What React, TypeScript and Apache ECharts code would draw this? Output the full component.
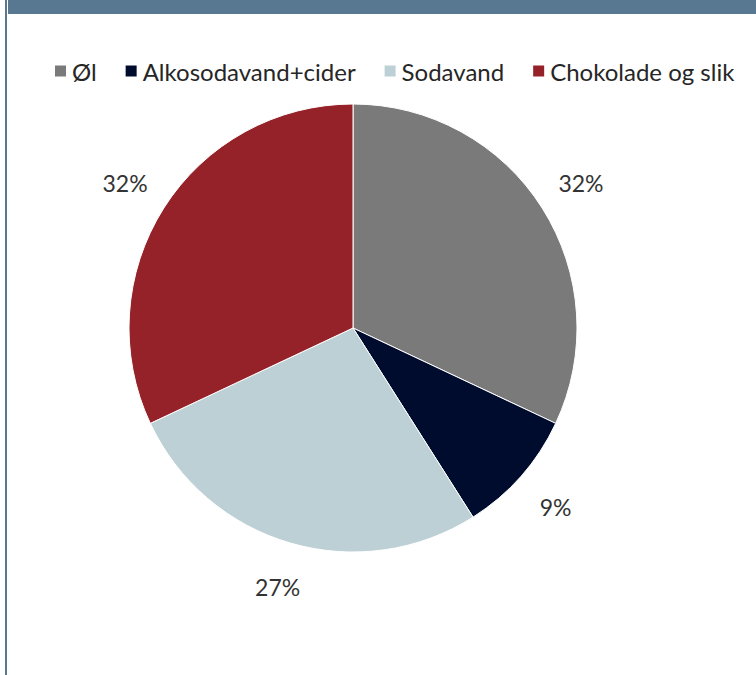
import React, { useEffect, useRef } from "react";
import * as echarts from "echarts";

const categories = ["Øl", "Alkosodavand+cider", "Sodavand", "Chokolade og slik"];
const shares = [32, 9, 27, 32];
const colors = ["#7a7a7a", "#000c2e", "#bdd0d6", "#952228"];

const FONT = "Lato, 'Open Sans', sans-serif";

export default function App() {
  const ref = useRef<HTMLDivElement>(null);
  useEffect(() => {
    if (!ref.current) return;
    const chart = echarts.init(ref.current, undefined, { renderer: "svg" });
    const data = categories.map((name, i) => ({
      name,
      value: shares[i],
      itemStyle: { color: colors[i] },
    }));
    chart.setOption({
      animation: false,
      backgroundColor: "#ffffff",
      textStyle: { fontFamily: FONT },
      graphic: [
        {
          type: "rect",
          shape: { x: 8, y: 0, width: 748, height: 14 },
          style: { fill: "#587891" },
        },
        {
          type: "rect",
          shape: { x: 5, y: 0, width: 2, height: 675 },
          style: { fill: "#587891" },
        },
      ],
      legend: {
        left: 53,
        top: 59,
        padding: 0,
        itemWidth: 13,
        itemHeight: 13,
        itemGap: 27,
        icon: "rect",
        textStyle: { fontSize: 24, color: "#262626", fontFamily: FONT },
        data: categories,
      },
      series: [
        {
          type: "pie",
          center: [353, 328],
          radius: [0, 224],
          startAngle: 90,
          clockwise: true,
          data,
          label: { show: false },
          labelLine: { show: false },
          itemStyle: { borderColor: "#ffffff", borderWidth: 1 },
          silent: true,
        },
        {
          type: "pie",
          center: [353, 328],
          radius: [252, 282],
          startAngle: 90,
          clockwise: true,
          silent: true,
          data: categories.map((name, i) => ({ name, value: shares[i] })),
          itemStyle: { color: "rgba(0,0,0,0)", borderWidth: 0 },
          label: {
            show: true,
            position: "inside",
            formatter: (p: any) => `${p.value}%`,
            fontSize: 23,
            color: "#333333",
            fontFamily: FONT,
          },
          labelLine: { show: false },
          emphasis: { disabled: true },
        },
      ],
    });
    return () => chart.dispose();
  }, []);
  return (
    <div
      ref={ref}
      style={{ position: "fixed", left: 0, top: 0, width: 756, height: 675 }}
    />
  );
}
